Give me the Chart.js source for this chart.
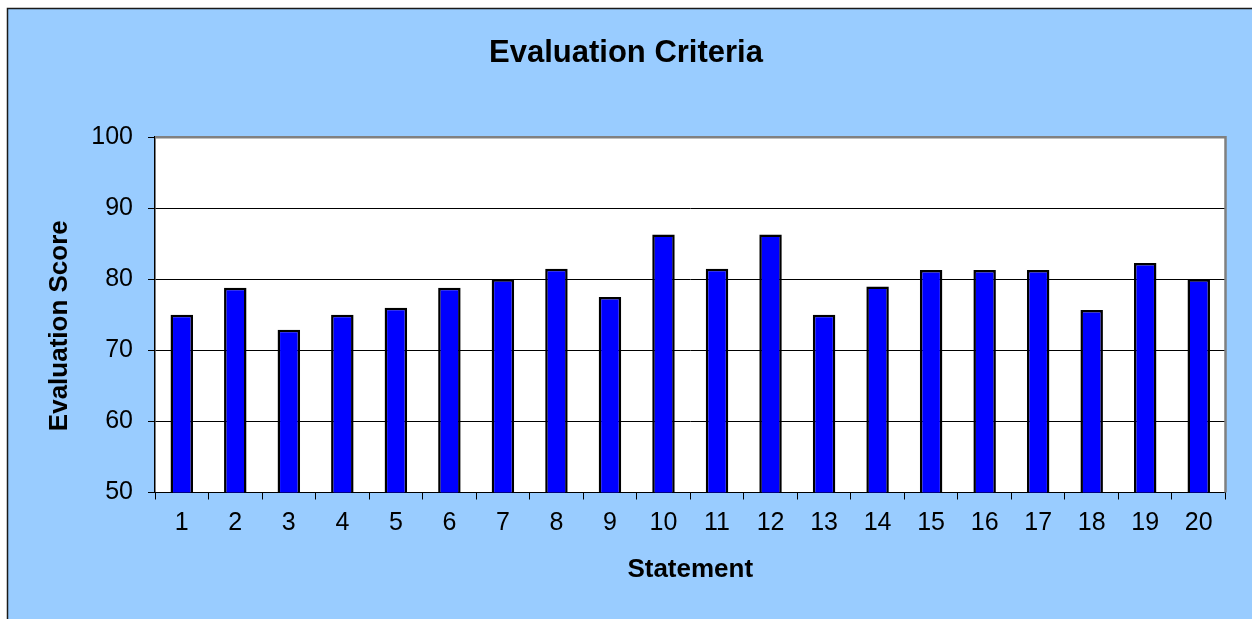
<!DOCTYPE html>
<html>
<head>
<meta charset="utf-8">
<title>Evaluation Criteria</title>
<script src="https://cdn.jsdelivr.net/npm/chart.js@4/dist/chart.umd.min.js"></script>
<style>
  html, body { margin: 0; padding: 0; background: #fff; }
  canvas { display: block; }
</style>
</head>
<body>
<canvas id="chart" width="1252" height="619"></canvas>
<script>
const statements = ['1', '2', '3', '4', '5', '6', '7', '8', '9', '10',
    '11', '12', '13', '14', '15', '16', '17', '18', '19', '20'];
const scores = [75, 78.8, 72.9, 75, 76, 78.8, 80, 81.5, 77.5, 86.3,
    81.5, 86.3, 75, 79, 81.3, 81.3, 81.3, 75.7, 82.3, 80];
const yMin = 50;
const yMax = 100;
const yStep = 10;

const FONT = "'Liberation Sans', Arial, sans-serif";

// light blue panel with black left/top edge, white plot area, grey frame
const frame = {
    id: 'frame',
    beforeDraw(chart) {
        const c = chart.ctx;
        const a = chart.chartArea;
        c.save();
        c.fillStyle = '#fff';
        c.fillRect(0, 0, chart.width, chart.height);
        c.fillStyle = '#99ccff';
        c.fillRect(7, 8, chart.width - 7, chart.height - 8);
        c.strokeStyle = '#1a1a1a';
        c.lineWidth = 1.5;
        c.beginPath();
        c.moveTo(7.5, chart.height);
        c.lineTo(7.5, 8.5);
        c.lineTo(chart.width, 8.5);
        c.stroke();
        c.fillStyle = '#fff';
        c.fillRect(a.left, a.top, a.right - a.left, a.bottom - a.top);
        c.restore();
    },
    afterDraw(chart) {
        const c = chart.ctx;
        const a = chart.chartArea;
        c.save();
        c.strokeStyle = '#808080';
        c.lineWidth = 2.5;
        c.beginPath();
        c.moveTo(a.left, a.top);
        c.lineTo(a.right, a.top);
        c.lineTo(a.right, a.bottom);
        c.stroke();
        c.restore();
    }
};

new Chart(document.getElementById('chart'), {
    type: 'bar',
    data: {
        labels: statements,
        datasets: [{
            label: 'Evaluation Score',
            data: scores,
            backgroundColor: '#0000ff',
            borderColor: '#000',
            borderWidth: 2.5,
            borderSkipped: false,
            barPercentage: 0.42,
            categoryPercentage: 1
        }]
    },
    options: {
        responsive: false,
        animation: false,
        layout: { padding: 0 },
        plugins: {
            legend: { display: false },
            tooltip: { enabled: false },
            title: {
                display: true,
                text: 'Evaluation Criteria',
                color: '#000',
                font: { family: FONT, size: 31, weight: 'bold', lineHeight: 1.2 },
                padding: { top: 35, bottom: 65 }
            }
        },
        scales: {
            x: {
                afterFit(scale) { scale.height = 126.5; },
                grid: {
                    drawOnChartArea: false,
                    drawTicks: true,
                    tickLength: 7,
                    color: '#000',
                    offset: true
                },
                border: { color: '#000', width: 1 },
                ticks: {
                    color: '#000',
                    padding: 9,
                    maxRotation: 0,
                    font: { family: FONT, size: 25 }
                },
                title: {
                    display: true,
                    text: 'Statement',
                    color: '#000',
                    font: { family: FONT, size: 26, weight: 'bold', lineHeight: 1.2 },
                    padding: { top: 0, bottom: 34 }
                }
            },
            y: {
                min: yMin,
                max: yMax,
                afterFit(scale) { scale.width = 155; },
                grid: {
                    color: '#000',
                    tickLength: 7,
                    lineWidth: 1
                },
                border: { color: '#000', width: 1.5 },
                ticks: {
                    stepSize: yStep,
                    color: '#000',
                    padding: 15,
                    font: { family: FONT, size: 25 }
                },
                title: {
                    display: true,
                    text: 'Evaluation Score   ',
                    color: '#000',
                    font: { family: FONT, size: 26, weight: 'bold', lineHeight: 1.2 },
                    padding: { top: 44, bottom: 0 }
                }
            },
            // empty right-hand strip so the title centres on the full panel
            yRight: {
                position: 'right',
                afterFit(scale) { scale.width = 26.5; },
                grid: { display: false },
                border: { display: false },
                ticks: { display: false }
            }
        }
    },
    plugins: [frame]
});
</script>
</body>
</html>
